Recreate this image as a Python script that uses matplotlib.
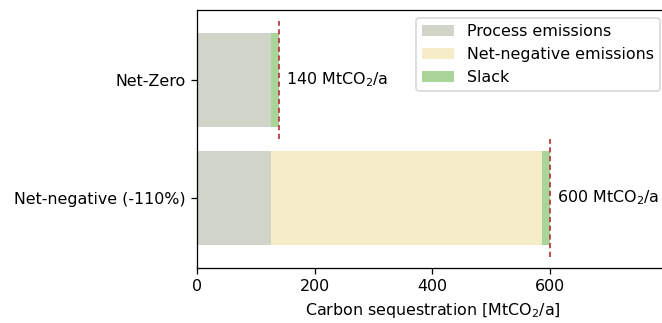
import matplotlib
matplotlib.use("Agg")
import matplotlib.pyplot as plt
import numpy as np

categories = ["Net-negative (-110%)", "Net-Zero"]
process = [126, 126]
net_negative = [460, 0]
slack = [14, 14]
totals = [600, 140]
labels = ["600 MtCO$_2$/a", "140 MtCO$_2$/a"]

DPI = 114
fig = plt.figure(figsize=(662 / DPI, 323 / DPI), dpi=DPI)
ax = fig.add_axes([0.2976, 0.170, 0.7112, 0.799])

y = np.arange(len(categories))
h = 0.8
c_proc = "#d1d4c9"
c_neg = "#f5edc8"
c_slack = "#a9d59a"
ax.barh(y, process, height=h, color=c_proc, label="Process emissions")
ax.barh(y, net_negative, left=process, height=h, color=c_neg, label="Net-negative emissions")
left2 = np.array(process) + np.array(net_negative)
ax.barh(y, slack, left=left2, height=h, color=c_slack, label="Slack")

for yi, t, lab in zip(y, totals, labels):
    ax.plot([t, t], [yi - 0.5, yi + 0.5], ls="--", color="#b5373a", lw=1.1, dashes=(3, 2))
    ax.text(t + 11, yi, lab, va="center", ha="left", fontsize=10)

ax.set_yticks(y)
ax.set_yticklabels(categories)
ax.set_ylim(-0.593, 1.593)
ax.set_xlim(0, 800)
ax.set_xticks([0, 200, 400, 600])
ax.set_xlabel("Carbon sequestration [MtCO$_2$/a]")
ax.legend(loc="upper right")

fig.savefig("out.png", dpi=DPI)
